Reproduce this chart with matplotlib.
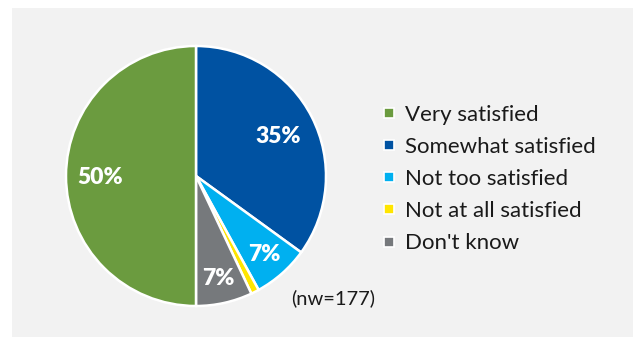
import matplotlib.pyplot as plt
from matplotlib.lines import Line2D
from matplotlib.patches import Rectangle
import numpy as np

plt.rcParams['font.family'] = ['Lato', 'DejaVu Sans']

# satisfaction shares, clockwise from 12 o'clock
labels = ['Somewhat satisfied', 'Not too satisfied', 'Not at all satisfied',
          "Don't know", 'Very satisfied']
shares = [35, 7, 1, 7, 50]
colors = ['#0052A2', '#00B0F0', '#FFE500', '#76797C', '#6B9B3F']
legend_order = [4, 0, 1, 2, 3]
# radial position of each percent label (fraction of radius)
label_r = [0.71, 0.79, 0.0, 0.79, 0.74]
note = '(nw=177)'

fig = plt.figure(figsize=(6.33, 3.37), dpi=100)
fig.patch.set_facecolor('white')
# light grey panel behind everything
fig.add_artist(Rectangle((12 / 633, 0), 1, 1 - 8 / 337, transform=fig.transFigure,
                         facecolor='#F2F2F2', edgecolor='none', zorder=0))

ax = fig.add_axes([66 / 633, 31 / 337, 260 / 633, 260 / 337])
ax.set_facecolor('none')
wedges, _ = ax.pie(shares, colors=colors, startangle=90, counterclock=False,
                   radius=1, wedgeprops=dict(edgecolor='white', linewidth=1.8))
ax.set_xlim(-1, 1)
ax.set_ylim(-1, 1)
ax.set_aspect('equal')

# percent labels, skipping the tiny slice
start = 90.0
for w, v, r in zip(wedges, shares, label_r):
    mid = np.deg2rad(start - v * 3.6 / 2)
    start -= v * 3.6
    if v < 2:
        continue
    ax.text(r * np.cos(mid), r * np.sin(mid) - 0.015, f'{v}%', color='white',
            fontsize=16.5, fontweight='heavy', ha='center', va='center')

handles = [Line2D([], [], marker='s', linestyle='none', markersize=7,
                  markerfacecolor=colors[i], markeredgecolor='white',
                  markeredgewidth=1.2) for i in legend_order]
fig.legend(handles, [labels[i] for i in legend_order], loc='center left',
           bbox_to_anchor=(381 / 633, 158 / 337), frameon=False, fontsize=16,
           handlelength=0.7, handletextpad=0.4, labelspacing=0.55,
           borderpad=0, borderaxespad=0, labelcolor='#1A1A1A')

fig.text(333 / 633, 1 - 298 / 337, note, fontsize=14.5, color='#1A1A1A',
         ha='center', va='center')

plt.savefig('out.png', dpi=100)
